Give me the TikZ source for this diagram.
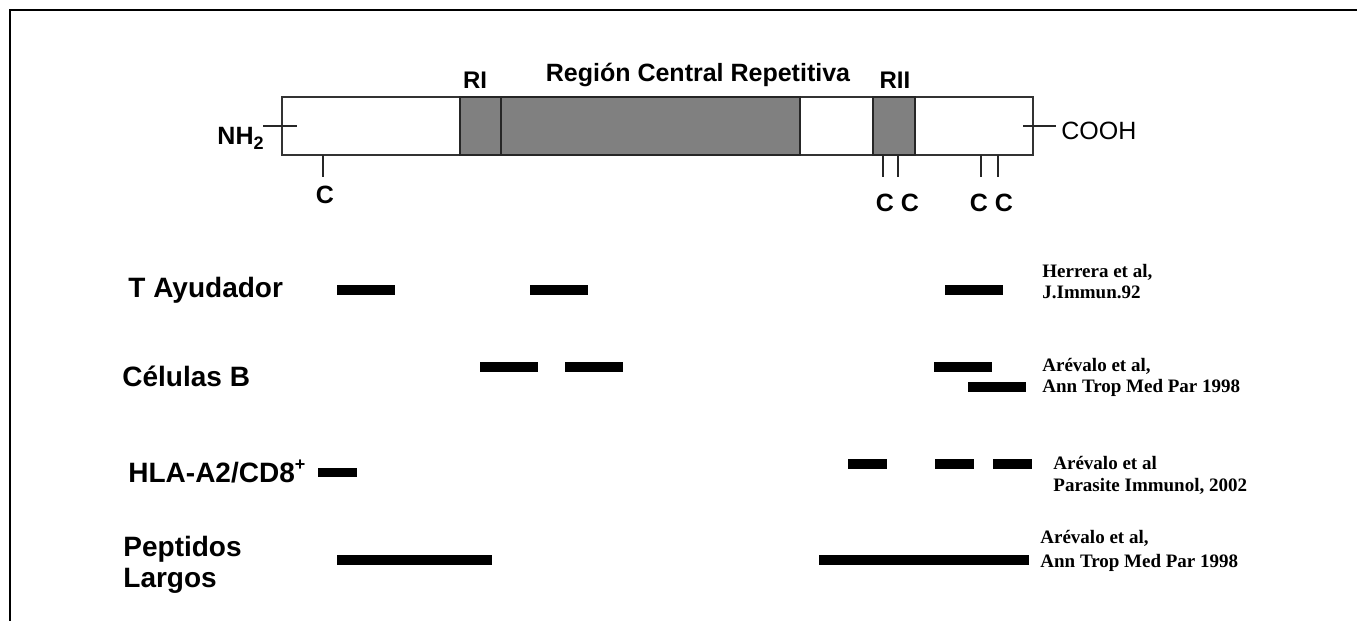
\documentclass[tikz,border=0pt]{standalone}
\usepackage{fontspec}
\setmainfont{Liberation Sans}
\newfontfamily\citeserif{Liberation Serif}
\begin{document}
\begin{tikzpicture}[x=0.5pt,y=-0.5pt,
  lbl/.style={font=\fontsize{14}{16}\selectfont\bfseries, anchor=base west, inner sep=0pt},
  cite/.style={font=\citeserif\fontsize{9.5}{11}\selectfont\bfseries, anchor=base west, inner sep=0pt},
  region/.style={font=\fontsize{12}{14}\selectfont\bfseries, anchor=base, inner sep=0pt},
  cys/.style={font=\fontsize{12.5}{14}\selectfont\bfseries, anchor=base, inner sep=0pt},
  tick/.style={line width=1pt, black!85},
  protein/.style={draw=black!80, line width=0.6pt},
  repeat/.style={draw=black!85, fill=black!50, line width=0.6pt},
  epi/.style={fill=black}]
\useasboundingbox (0,0) rectangle (1357,621);

% outer frame (top and left sides)
\draw[line width=0.8pt] (10,621) -- (10,10) -- (1357,10);

% protein backbone and shaded repeat regions
\draw[protein] (282,97) rectangle (1033,155);
\draw[repeat] (460,97) rectangle (501,155);
\draw[repeat] (501,97) rectangle (800,155);
\draw[repeat] (873,97) rectangle (915,155);

% region titles
\node[region] (ri) at (475,89) {RI};
\node[region, font=\fontsize{12.5}{14}\selectfont\bfseries] (rcr) at (698,82) {Región Central Repetitiva};
\node[region] (rii) at (895,89) {RII};

% termini
\draw[tick] (263,126) -- (297,126);
\node[cys, anchor=base east] (nh) at (264,144) {NH\raisebox{-0.45ex}{\fontsize{9}{9}\selectfont 2}};
\draw[tick] (1023,126) -- (1056,126);
\node[anchor=base west, inner sep=0pt, font=\fontsize{12.5}{14}\selectfont] (cooh) at (1061,139) {COOH};

% cysteine positions
\coordinate (c1) at (323,155);
\coordinate (c2) at (883,155);
\coordinate (c3) at (898,155);
\coordinate (c4) at (981,155);
\coordinate (c5) at (998,155);
\foreach \c in {c1,c2,c3,c4,c5} \draw[tick] (\c) -- ++(0,22);
\node[cys] (lc1) at (325,203) {C};
\node[cys] (lc2) at (885,211) {C};
\node[cys] (lc3) at (910,211) {C};
\node[cys] (lc4) at (979,211) {C};
\node[cys] (lc5) at (1004,211) {C};

% row labels
\node[lbl] (th) at (128,297) {T Ayudador};
\node[lbl] (cb) at (122,386) {Células B};
\node[lbl] (hla) at (128,482) {HLA-A2/CD8\raisebox{0.75ex}{\fontsize{9}{9}\selectfont +}};
\node[lbl] (pl1) at (123,556) {Peptidos};
\node[lbl] (pl2) at (123,587) {Largos};

% epitope mapping bars
\fill[epi] (337,285) rectangle (395,295);
\fill[epi] (530,285) rectangle (588,295);
\fill[epi] (945,285) rectangle (1003,295);

\fill[epi] (480,362) rectangle (538,372);
\fill[epi] (565,362) rectangle (623,372);
\fill[epi] (934,362) rectangle (992,372);
\fill[epi] (968,382) rectangle (1026,392);

\fill[epi] (318,468) rectangle (357,477);
\fill[epi] (848,459) rectangle (887,469);
\fill[epi] (935,459) rectangle (974,469);
\fill[epi] (993,459) rectangle (1032,469);

\fill[epi] (337,555) rectangle (492,565);
\fill[epi] (819,555) rectangle (1029,565);

% references
\node[cite] (r1a) at (1042,277) {Herrera et al,};
\node[cite] (r1b) at (1042,298) {J.Immun.92};
\node[cite] (r2a) at (1042,371) {Arévalo et al,};
\node[cite] (r2b) at (1042,392) {Ann Trop Med Par 1998};
\node[cite] (r3a) at (1053,469) {Arévalo et al};
\node[cite] (r3b) at (1053,491) {Parasite Immunol, 2002};
\node[cite] (r4a) at (1040,543) {Arévalo et al,};
\node[cite] (r4b) at (1040,567) {Ann Trop Med Par 1998};
\end{tikzpicture}
\end{document}
